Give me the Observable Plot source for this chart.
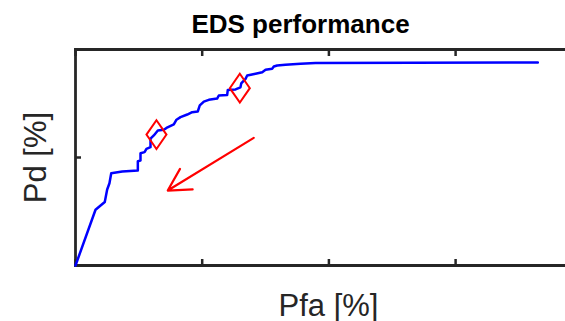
<!DOCTYPE html>
<html>
<head>
<meta charset="utf-8">
<script src="https://cdn.jsdelivr.net/npm/d3@7"></script>
<script src="https://cdn.jsdelivr.net/npm/@observablehq/plot@0.6"></script>
<style>
  html, body { margin: 0; padding: 0; background: #ffffff; }
  svg { display: block; }
</style>
</head>
<body>
<div id="chart"></div>
<script>
// ROC curve (Pfa in %, Pd in %)
const pfa = [0, 0.158, 0.231, 0.250, 0.268, 0.282, 0.369, 0.492, 0.492, 0.513, 0.513, 0.545, 0.560, 0.592, 0.592, 0.618, 0.650, 0.697, 0.718, 0.776, 0.797, 0.829, 0.882, 0.921, 0.965, 0.981, 1.013, 1.052, 1.118, 1.131, 1.197, 1.202, 1.263, 1.302, 1.308, 1.342, 1.355, 1.421, 1.474, 1.500, 1.552, 1.565, 1.592, 1.657, 1.776, 1.894, 3.649];
const pd = [0, 25.8, 29.4, 35.2, 38.1, 42.7, 43.5, 44.0, 48.3, 48.6, 52.0, 52.5, 54.0, 54.8, 58.7, 60.2, 62.5, 62.8, 63.7, 65.3, 67.5, 68.7, 69.9, 71.0, 71.3, 74.1, 75.9, 76.7, 77.3, 78.7, 78.9, 81.3, 81.5, 82.5, 84.3, 86.4, 88.0, 88.8, 89.5, 90.6, 91.1, 92.1, 92.6, 92.9, 93.4, 93.7, 94.0];

// Operating points (red diamonds)
const opPfa = [0.639, 1.297];
const opPd = [60.6, 82.1];

// Annotation arrow (start -> end)
const arrowFrom = [1.407, 59.1];
const arrowTo = [0.728, 34.7];

// Ticks (no labels)
const xTicks = [0, 1, 2, 3];
const yTicks = [0, 50, 100];

const titleText = "EDS performance";
const xLabel = "Pfa [%]";
const yLabel = "Pd [%]";

const curve = pfa.map((x, i) => ({x, y: pd[i]}));
const ops = opPfa.map((x, i) => ({x, y: opPd[i]}));
const arrows = [{x1: arrowFrom[0], y1: arrowFrom[1], x2: arrowTo[0], y2: arrowTo[1]}];

const tallDiamond = {
  draw(context, size) {
    const r = Math.sqrt(size / Math.PI);
    context.moveTo(0, -1.15 * r);
    context.lineTo(0.8 * r, 0);
    context.lineTo(0, 1.15 * r);
    context.lineTo(-0.8 * r, 0);
    context.closePath();
  }
};

const font = "Liberation Sans, Arial, Helvetica, sans-serif";
const axisColor = "#262626";

const chart = Plot.plot({
  width: 565,
  height: 321,
  marginLeft: 75,
  marginRight: 0,
  marginTop: 49,
  marginBottom: 56,
  style: {fontFamily: font, background: "#ffffff"},
  x: {domain: [0, 490 / 126.7], axis: null},
  y: {domain: [0, 100], axis: null},
  marks: [
    Plot.axisX(xTicks, {anchor: "bottom", tickSize: -6, tickFormat: () => "", label: null, stroke: axisColor, strokeWidth: 2.5}),
    Plot.axisX(xTicks, {anchor: "top", tickSize: -6, tickFormat: () => "", label: null, stroke: axisColor, strokeWidth: 2.5}),
    Plot.axisY(yTicks, {anchor: "left", tickSize: -6, tickFormat: () => "", label: null, stroke: axisColor, strokeWidth: 2.5}),
    Plot.frame({anchor: "left", stroke: axisColor, strokeWidth: 2.8}),
    Plot.frame({anchor: "bottom", stroke: axisColor, strokeWidth: 2.8}),
    Plot.frame({anchor: "top", stroke: axisColor, strokeWidth: 2.8}),
    Plot.line(curve, {x: "x", y: "y", stroke: "#0000ff", strokeWidth: 2.5}),
    Plot.dot(ops, {x: "x", y: "y", symbol: tallDiamond, r: 12.5, stroke: "#ff0000", strokeWidth: 2, fill: "none"}),
    Plot.arrow(arrows, {x1: "x1", y1: "y1", x2: "x2", y2: "y2", stroke: "#ff0000", strokeWidth: 2.2, headLength: 17, headAngle: 58}),
    Plot.text([titleText], {text: d => d, frameAnchor: "top-left", dx: 225, dy: -17, lineAnchor: "bottom", textAnchor: "middle", fontSize: 26, fontWeight: "bold", fill: "#000000"}),
    Plot.text([yLabel], {text: d => d, frameAnchor: "left", rotate: -90, dx: -30, lineAnchor: "bottom", textAnchor: "middle", fontSize: 31, fill: axisColor}),
    Plot.text([xLabel], {text: d => d, frameAnchor: "bottom", dx: 8, dy: 50, lineAnchor: "bottom", textAnchor: "middle", fontSize: 31, fill: axisColor})
  ]
});

document.getElementById("chart").appendChild(chart);
</script>
</body>
</html>
